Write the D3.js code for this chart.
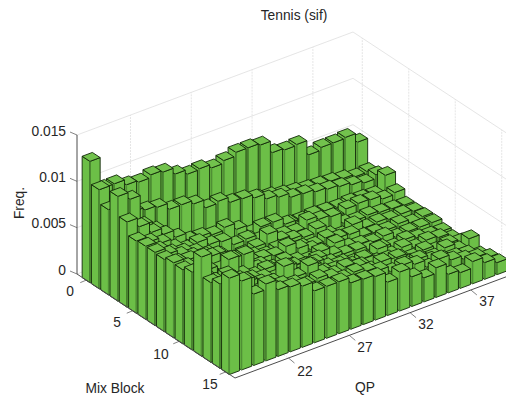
<!DOCTYPE html>
<html><head><meta charset="utf-8"><script src="https://cdn.jsdelivr.net/npm/d3@7"></script>
<style>html,body{margin:0;background:#fff;overflow:hidden}svg{display:block}text{font-family:"Liberation Sans",Arial,sans-serif;fill:#262626}</style>
</head><body><svg id="c" width="506" height="401"></svg>
<script>
const title="Tennis (sif)", xLabel="QP", yLabel="Mix Block", zLabel="Freq.";
const qpValues=d3.range(18,41);
const mixValues=d3.range(0,16);
const qpTicks=[22,27,32,37], mixTicks=[0,5,10,15], freqTicks=[0,0.005,0.01,0.015], freqTickLabels=["0","0.005","0.01","0.015"];
const mix0 =[.0131,.0097,.0097,.0091,.0089,.0092,.0090,.0083,.0078,.0079,.0075,.0078,.0082,.0082,.0080,.0067,.0065,.0066,.0050,.0053,.0053,.0054,.0044];
const mix1 =[.0107,.0085,.0070,.0062,.0058,.0055,.0052,.0050,.0046,.0043,.0040,.0038,.0036,.0034,.0032,.0029,.0027,.0025,.0024,.0023,.0021,.0018,.0019];
const mix2 =[.0092,.0085,.0080,.0077,.0075,.0068,.0068,.0064,.0055,.0057,.0051,.0050,.0046,.0040,.0037,.0032,.0031,.0028,.0026,.0024,.0021,.0018,.0022];
const mix3 =[.0113,.0105,.0072,.0062,.0048,.0042,.0036,.0032,.0028,.0024,.0022,.0020,.0018,.0017,.0015,.0014,.0015,.0014,.0013,.0014,.0013,.0012,.0028];
const mix4 =[.0092,.0082,.0071,.0064,.0056,.0048,.0047,.0044,.0047,.0040,.0024,.0033,.0033,.0026,.0015,.0012,.0014,.0014,.0018,.0019,.0018,.0014,.0016];
const mix5 =[.0078,.0072,.0066,.0056,.0050,.0052,.0045,.0043,.0035,.0036,.0030,.0028,.0026,.0024,.0032,.0028,.0026,.0014,.0012,.0013,.0011,.0010,.0009];
const mix6 =[.0079,.0070,.0062,.0058,.0053,.0046,.0040,.0030,.0032,.0034,.0043,.0032,.0028,.0025,.0029,.0018,.0013,.0019,.0011,.0012,.0010,.0011,.0009];
const mix7 =[.0079,.0072,.0066,.0060,.0056,.0052,.0042,.0038,.0036,.0032,.0034,.0030,.0026,.0023,.0026,.0021,.0020,.0013,.0012,.0010,.0012,.0008,.0010];
const mix8 =[.0078,.0070,.0068,.0062,.0058,.0050,.0046,.0042,.0040,.0038,.0043,.0036,.0030,.0022,.0027,.0018,.0016,.0013,.0015,.0009,.0010,.0010,.0010];
const mix9 =[.0081,.0072,.0065,.0073,.0060,.0054,.0048,.0044,.0036,.0039,.0034,.0030,.0034,.0026,.0022,.0021,.0017,.0014,.0010,.0013,.0010,.0008,.0007];
const mix10=[.0080,.0068,.0070,.0066,.0072,.0072,.0052,.0046,.0042,.0040,.0036,.0038,.0029,.0024,.0020,.0018,.0024,.0013,.0016,.0011,.0014,.0012,.0006];
const mix11=[.0084,.0074,.0064,.0083,.0062,.0056,.0058,.0050,.0044,.0041,.0045,.0036,.0033,.0028,.0030,.0022,.0020,.0016,.0012,.0015,.0010,.0012,.0009];
const mix12=[.0107,.0076,.0078,.0068,.0064,.0060,.0055,.0062,.0048,.0053,.0042,.0040,.0037,.0034,.0031,.0026,.0028,.0018,.0016,.0014,.0019,.0012,.0019];
const mix13=[.0086,.0080,.0070,.0072,.0066,.0062,.0074,.0058,.0065,.0052,.0046,.0049,.0044,.0036,.0040,.0030,.0027,.0028,.0022,.0018,.0016,.0014,.0008];
const mix14=[.0091,.0091,.0085,.0068,.0070,.0066,.0062,.0056,.0058,.0054,.0048,.0050,.0046,.0042,.0036,.0038,.0034,.0026,.0030,.0024,.0020,.0017,.0012];
const mix15=[.0104,.0096,.0077,.0083,.0072,.0070,.0066,.0056,.0056,.0056,.0050,.0049,.0047,.0036,.0042,.0032,.0026,.0032,.0020,.0017,.0024,.0018,.0013];
const freqRows=[mix0,mix1,mix2,mix3,mix4,mix5,mix6,mix7,mix8,mix9,mix10,mix11,mix12,mix13,mix14,mix15];

const qpLim=[17.6,40.3], mixLim=[-1,16], zLim=[0,.015];
const ux=d3.scaleLinear().domain(qpLim).range([0,276]), uy=d3.scaleLinear().domain(qpLim).range([0,-103]);
const vx=d3.scaleLinear().domain(mixLim).range([0,158]), vy=d3.scaleLinear().domain(mixLim).range([0,104]);
const zy=d3.scaleLinear().domain(zLim).range([0,-139]);
const P=(q,m,z=0)=>[77+ux(q)+vx(m),274+uy(q)+vy(m)+zy(z)];
const svg=d3.select("#c");
const line=(g,a,b,col,w,dash)=>g.append("line").attr("x1",a[0]).attr("y1",a[1]).attr("x2",b[0]).attr("y2",b[1]).attr("stroke",col).attr("stroke-width",w).attr("stroke-dasharray",dash||null);
const grid=svg.append("g");
const GC="#dedede", GD="2 1";
freqTicks.forEach(z=>{line(grid,P(qpLim[0],mixLim[0],z),P(qpLim[1],mixLim[0],z),GC,.8);line(grid,P(qpLim[1],mixLim[0],z),P(qpLim[1],mixLim[1],z),GC,.8);});
qpTicks.forEach(q=>{line(grid,P(q,mixLim[0],0),P(q,mixLim[0],.015),GC,.8,GD);line(grid,P(q,mixLim[0],0),P(q,mixLim[1],0),GC,.8,GD);});
mixTicks.forEach(m=>{line(grid,P(qpLim[1],m,0),P(qpLim[1],m,.015),GC,.8,GD);line(grid,P(qpLim[0],m,0),P(qpLim[1],m,0),GC,.8,GD);});

const bars=svg.append("g"), w=.42, FILL="#6cbf47", EDGE="#122809", SOFT="#4f8f35";
const poly=(pts,fill)=>bars.append("polygon").attr("points",pts.map(p=>p.map(n=>n.toFixed(2)).join(",")).join(" ")).attr("fill",fill).attr("stroke",EDGE).attr("stroke-width",.9).attr("stroke-linejoin","round");
mixValues.forEach((m,ri)=>{
  for(let ci=qpValues.length-1;ci>=0;ci--){
    const q=qpValues[ci], h=freqRows[ri][ci];
    const a=[q-w,m-w],b=[q-w,m+w],c=[q+w,m+w],d=[q+w,m-w];
    poly([P(...a,0),P(...b,0),P(...b,h),P(...a,h)],FILL);
    poly([P(...b,0),P(...c,0),P(...c,h),P(...b,h)],FILL);
    poly([P(...a,h),P(...b,h),P(...c,h),P(...d,h)],"#72c24d");
    line(bars,P(...b,0),P(...b,h),SOFT,1.4);
  }
});
const ax=svg.append("g"), AC="#4d4d4d";
line(ax,P(qpLim[0],mixLim[0],0),P(qpLim[0],mixLim[0],.015),AC,1);
line(ax,P(qpLim[0],mixLim[0],0),P(qpLim[0],mixLim[1],0),AC,1);
line(ax,P(qpLim[0],mixLim[1],0),P(qpLim[1],mixLim[1],0),AC,1);
const FS=13.8;
freqTicks.forEach((z,i)=>{const p=P(qpLim[0],mixLim[0],z);line(ax,p,[p[0]-7,p[1]-3],AC,.7);
  ax.append("text").attr("x",66).attr("y",p[1]-4).attr("text-anchor","end").attr("dominant-baseline","central").attr("font-size",FS).text(freqTickLabels[i]);});
const mixLab=[[70,291],[117,322],[161,354],[210,384]];
mixTicks.forEach((m,i)=>{const p=P(qpLim[0],m,0);line(ax,p,[p[0]-6,p[1]+2.5],AC,.7);
  ax.append("text").attr("x",mixLab[i][0]).attr("y",mixLab[i][1]).attr("text-anchor","middle").attr("dominant-baseline","central").attr("font-size",FS).text(m);});
const qpLab=[[305,371],[365,347],[426,324],[487,301]];
qpTicks.forEach((q,i)=>{const p=P(q,mixLim[1],0);line(ax,p,[p[0]+6,p[1]+5],AC,.7);
  ax.append("text").attr("x",qpLab[i][0]).attr("y",qpLab[i][1]).attr("text-anchor","middle").attr("dominant-baseline","central").attr("font-size",FS).text(q);});
const label=(t,x,y,r)=>svg.append("text").attr("text-anchor","middle").attr("dominant-baseline","central").attr("font-size",FS).attr("transform",`translate(${x},${y})${r?` rotate(${r})`:""}`).text(t);
label(title,294,15);label(xLabel,365,387);label(yLabel,115,388);label(zLabel,19,203,-90);
</script></body></html>
